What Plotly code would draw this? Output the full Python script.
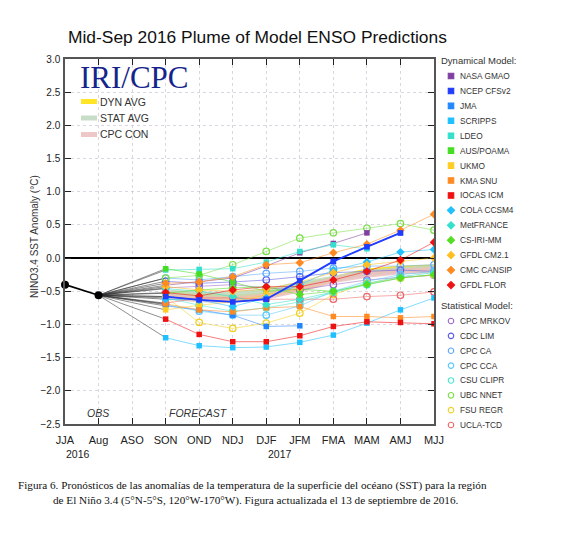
import plotly.graph_objects as go

# x categories (observed + forecast seasons)
seasons = ["JJA", "Aug", "ASO", "SON", "OND", "NDJ", "DJF", "JFM", "FMA", "MAM", "AMJ", "MJJ"]
forecast_seasons = ["SON", "OND", "NDJ", "DJF", "JFM", "FMA", "MAM", "AMJ", "MJJ"]
obs_seasons = ["JJA", "Aug"]
obs_values = [-0.40, -0.56]

dyn_names = ["NASA GMAO", "NCEP CFSv2", "JMA", "SCRIPPS", "LDEO", "AUS/POAMA", "UKMO",
             "KMA SNU", "IOCAS ICM", "COLA CCSM4", "MetFRANCE", "CS-IRI-MM",
             "GFDL CM2.1", "CMC CANSIP", "GFDL FLOR"]
dyn_colors = ["#7f3fa0", "#1f3cff", "#2286ff", "#1ec0ff", "#34e0cc", "#44dd22", "#ffcc22",
              "#ff8a22", "#ee1111", "#22c0ff", "#34e0cc", "#55dd22",
              "#ffbf22", "#ff8a22", "#ee1111"]
dyn_symbols = ["square"] * 9 + ["diamond"] * 6

dyn_values = [
    [-0.41, -0.36, -0.30, -0.12, 0.08, 0.22, 0.38, None, None],      # NASA GMAO
    [-0.58, -0.63, -0.66, -0.62, -0.34, -0.05, 0.17, 0.38, None],    # NCEP CFSv2
    [-0.72, -0.78, -0.86, -1.03, -1.02, None, None, None, None],     # JMA
    [-1.20, -1.32, -1.35, -1.34, -1.27, -1.16, -0.98, -0.78, -0.60], # SCRIPPS
    [-0.18, -0.17, -0.16, -0.06, 0.10, 0.20, 0.14, None, None],      # LDEO
    [-0.16, -0.24, -0.36, -0.50, -0.47, -0.50, None, None, None],    # AUS/POAMA
    [-0.78, -0.71, -0.66, -0.55, -0.45, None, None, None, None],     # UKMO
    [-0.69, -0.78, -0.81, -0.75, -0.73, -0.88, -0.88, -0.90, -0.88], # KMA SNU
    [-0.92, -1.15, -1.26, -1.26, -1.17, -1.03, -0.96, -0.97, -0.99], # IOCAS ICM
    [-0.62, -0.63, -0.73, -0.60, -0.40, -0.18, -0.06, 0.09, 0.13],   # COLA CCSM4
    [-0.46, -0.50, -0.58, -0.70, -0.62, -0.51, -0.38, -0.28, -0.22], # MetFRANCE
    [-0.53, -0.48, -0.45, -0.43, -0.55, -0.50, -0.40, -0.30, -0.25], # CS-IRI-MM
    [-0.43, -0.48, -0.50, -0.47, -0.36, -0.22, -0.10, -0.05, 0.00],  # GFDL CM2.1
    [-0.38, -0.36, -0.28, -0.10, -0.07, 0.08, 0.21, 0.42, 0.66],     # CMC CANSIP
    [-0.52, -0.57, -0.48, -0.43, -0.43, -0.33, -0.20, -0.03, 0.24],  # GFDL FLOR
]

stat_names = ["CPC MRKOV", "CDC LIM", "CPC CA", "CPC CCA", "CSU CLIPR", "UBC NNET", "FSU REGR", "UCLA-TCD"]
stat_colors = ["#9a66c8", "#5a5ae6", "#5aa8ff", "#55c8ff", "#44e6d2", "#77e044", "#f0d022", "#f06666"]
stat_values = [
    [-0.45, -0.43, -0.40, -0.45, -0.48, -0.40, -0.33, -0.29, -0.26], # CPC MRKOV
    [-0.35, -0.38, -0.36, -0.33, -0.28, -0.22, -0.20, -0.18, -0.20], # CDC LIM
    [-0.30, -0.33, -0.28, -0.23, -0.20, -0.15, -0.12, -0.12, -0.10], # CPC CA
    [-0.70, -0.80, -0.86, -0.86, -0.72, -0.50, -0.35, -0.25, -0.20], # CPC CCA
    [-0.60, -0.71, -0.80, -0.75, -0.66, -0.52, -0.40, -0.30, -0.25], # CSU CLIPR
    [-0.30, -0.26, -0.10, 0.10, 0.30, 0.38, 0.45, 0.52, 0.42],       # UBC NNET
    [-0.58, -0.97, -1.06, -0.98, -0.83, -0.55, -0.38, -0.30, -0.25], # FSU REGR
    [-0.68, -0.60, -0.60, -0.62, -0.62, -0.62, -0.58, -0.56, -0.51], # UCLA-TCD
]

avg_names = ["DYN AVG", "STAT AVG", "CPC CON"]
avg_colors = ["rgba(255,225,0,0.85)", "rgba(190,215,190,0.85)", "rgba(235,190,190,0.85)"]
avg_values = [
    [-0.55, -0.57, -0.60, -0.56, -0.44, -0.30, -0.20, -0.16, -0.14],
    [-0.52, -0.55, -0.55, -0.50, -0.40, -0.30, -0.22, -0.18, -0.15],
    [-0.58, -0.62, -0.63, -0.58, -0.47, -0.33, -0.25, -0.20, -0.18],
]


def rgba(hex_color, alpha):
    h = hex_color.lstrip("#")
    r, g, b = int(h[0:2], 16), int(h[2:4], 16), int(h[4:6], 16)
    return f"rgba({r},{g},{b},{alpha})"


# the page body has an 8px margin; positions below are given in window pixels
OFF = 8
W, H = 564 - OFF, 544 - OFF
X0, X1, Y0, Y1 = 65, 434, 59, 424  # plot area in window pixels


def px(x):
    return (x - OFF) / W


def py(y):
    return 1 - (y - OFF) / H


xi = {s: i for i, s in enumerate(seasons)}
fx = [xi[s] for s in forecast_seasons]

fig = go.Figure()

# averages (thick pale bands), drawn underneath
for name, col, vals in zip(avg_names, avg_colors, avg_values):
    fig.add_scatter(x=fx, y=vals, mode="lines", line=dict(color=col, width=6),
                    hoverinfo="skip", showlegend=False)

# thin dark lines from last obs to first forecast of every model
lx, ly = [], []
for vals in dyn_values + stat_values:
    lx += [xi["Aug"], fx[0], None]
    ly += [obs_values[-1], vals[0], None]
fig.add_scatter(x=lx, y=ly, mode="lines", line=dict(color="rgba(40,40,40,0.75)", width=0.7),
                hoverinfo="skip", showlegend=False)

for name, col, vals in zip(stat_names, stat_colors, stat_values):
    fig.add_scatter(x=fx, y=vals, mode="lines+markers", name=name,
                    line=dict(color=rgba(col, 0.55), width=1),
                    marker=dict(symbol="circle-open", size=6.5, color=col, line=dict(width=1.2)),
                    showlegend=False)

for name, col, sym, vals in zip(dyn_names, dyn_colors, dyn_symbols, dyn_values):
    fig.add_scatter(x=fx, y=vals, mode="lines+markers", name=name,
                    line=dict(color=rgba(col, 0.55), width=1),
                    marker=dict(symbol=sym, size=5.5 if sym == "square" else 6.5, color=col),
                    showlegend=False)

# NCEP CFSv2 is drawn heavier in the original
fig.add_scatter(x=fx, y=dyn_values[1], mode="lines+markers", line=dict(color="#1f3cff", width=1.8),
                marker=dict(symbol="square", size=5.5, color="#1f3cff"), showlegend=False)

# observations
fig.add_scatter(x=[xi[s] for s in obs_seasons], y=obs_values, mode="lines+markers",
                line=dict(color="black", width=1.8), marker=dict(color="black", size=8),
                cliponaxis=False, showlegend=False)

# ---- legend drawn on a hidden full-figure pixel axis ----
leg_x, leg_y, leg_sym, leg_col = [], [], [], []
for i, (col, sym) in enumerate(zip(dyn_colors, dyn_symbols)):
    leg_x.append(451); leg_y.append(76 + 14.93 * i); leg_sym.append(sym); leg_col.append(col)
for i, col in enumerate(stat_colors):
    leg_x.append(451); leg_y.append(321 + 14.86 * i); leg_sym.append("circle-open"); leg_col.append(col)
fig.add_scatter(x=leg_x, y=leg_y, xaxis="x2", yaxis="y2", mode="markers",
                marker=dict(symbol=leg_sym, color=leg_col, size=5.5,
                            line=dict(width=1.1, color=leg_col)),
                hoverinfo="skip", showlegend=False, cliponaxis=False)

annotations = []
def txt(x, y, s, size=9, color="#222", xanchor="left", **kw):
    annotations.append(dict(x=px(x), y=py(y), xref="paper", yref="paper", text=s,
                            showarrow=False, xanchor=xanchor, yanchor="middle",
                            font=dict(size=size, color=color, family=kw.pop("family", "Liberation Sans, Arial")),
                            **kw))

txt(439, 61, "Dynamical Model:", size=9.5, color="#333")
for i, n in enumerate(dyn_names):
    txt(458, 76 + 14.93 * i, n, size=8.3, color="#333")
txt(439, 305, "Statistical Model:", size=9.5, color="#333")
for i, n in enumerate(stat_names):
    txt(458, 321 + 14.86 * i, n, size=8.3, color="#333")

# inner legend for averages
shapes = []
for i, (n, col) in enumerate(zip(avg_names, avg_colors)):
    yy = 101.5 + 16.5 * i
    shapes.append(dict(type="line", xref="paper", yref="paper", x0=px(81), x1=px(97),
                       y0=py(yy), y1=py(yy), line=dict(color=col, width=5)))
    txt(98, yy, n, size=10.5, color="#333")

txt(134, 77, "IRI/CPC", size=31, color="#14248c", xanchor="center",
    family="Liberation Serif, Times New Roman")
txt(66, 37, "Mid-Sep 2016 Plume of Model ENSO Predictions", size=17.4, color="#111")
txt(98, 413, "<i>OBS</i>", size=10.5, color="#333", xanchor="center")
txt(199, 413, "<i>FORECAST</i>", size=10.5, color="#333", xanchor="center")
txt(78, 454, "2016", size=10.5, color="#222", xanchor="center")
txt(280, 454, "2017", size=10.5, color="#222", xanchor="center")
txt(34, 237, "NINO3.4 SST Anomaly (°C)", size=10, color="#333", xanchor="center", textangle=-90)
txt(252, 485, "Figura 6. Pronósticos de las anomalías de la temperatura de la superficie del océano (SST) para la región",
    size=11.2, color="#111", xanchor="center", family="Liberation Serif, Times New Roman")
txt(256, 500, "de El Niño 3.4 (5°N-5°S, 120°W-170°W). Figura actualizada el 13 de septiembre de 2016.",
    size=11.2, color="#111", xanchor="center", family="Liberation Serif, Times New Roman")

grid = dict(showgrid=True, gridcolor="rgba(175,165,190,0.45)", griddash="dot", gridwidth=1)
fig.update_layout(
    width=W, height=H, margin=dict(l=0, r=0, t=0, b=0, autoexpand=False),
    paper_bgcolor="white", plot_bgcolor="rgba(0,0,0,0)",
    font=dict(family="Liberation Sans, Arial", color="#222"),
    xaxis=dict(domain=[px(X0), px(X1)], range=[0, 11], tickmode="array",
               tickvals=list(range(len(seasons))), ticktext=seasons, automargin=False,
               ticks="inside", ticklen=6, tickcolor="#222", showline=True, linecolor="#555",
               linewidth=1.5, mirror="ticks", tickfont=dict(size=11), ticklabelstandoff=5,
               zeroline=False, **grid),
    yaxis=dict(domain=[py(Y1), py(Y0)], range=[-2.5, 3.0], dtick=0.5, tickformat=".1f",
               ticks="inside", ticklen=6, tickcolor="#222", showline=True, linecolor="#555",
               linewidth=1.5, mirror="ticks", tickfont=dict(size=10), ticklabelstandoff=1,
               automargin=False,
               zeroline=True, zerolinecolor="black", zerolinewidth=2, **grid),
    xaxis2=dict(domain=[0, 1], range=[OFF, OFF + W], visible=False, anchor="y2", automargin=False),
    yaxis2=dict(domain=[0, 1], range=[OFF + H, OFF], visible=False, anchor="x2", automargin=False),
    annotations=annotations, shapes=shapes,
)

fig.write_html("out.html")
